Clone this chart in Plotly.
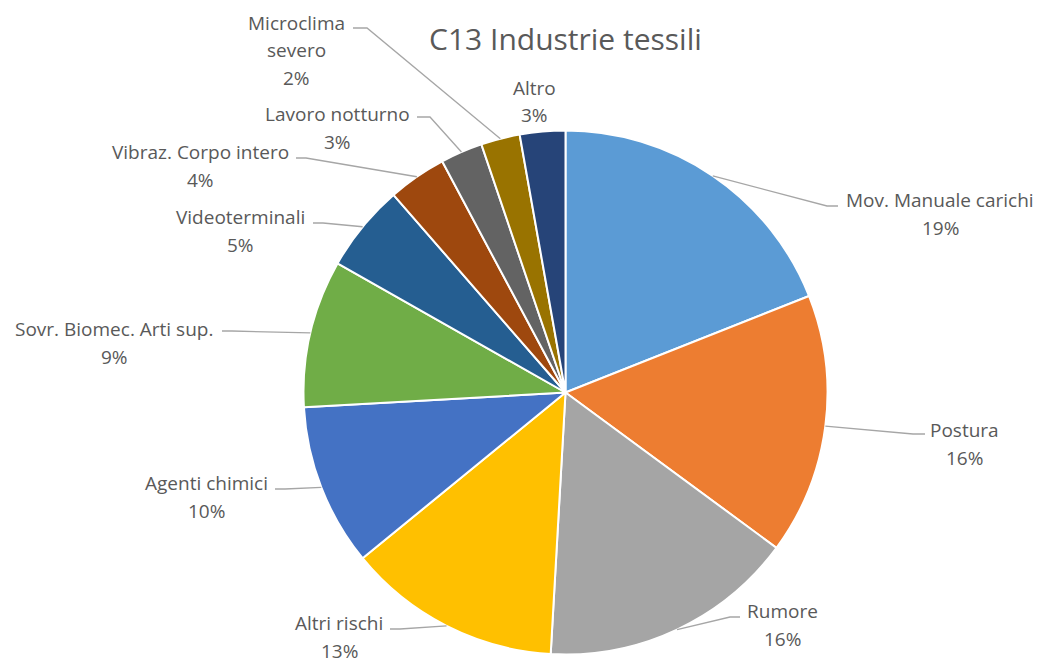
import math
import plotly.graph_objects as go

# ---------------- data ----------------
categories = [
    "Mov. Manuale carichi", "Postura", "Rumore", "Altri rischi", "Agenti chimici",
    "Sovr. Biomec. Arti sup.", "Videoterminali", "Vibraz. Corpo intero",
    "Lavoro notturno", "Microclima severo", "Altro",
]
values = [19.0, 16.1, 15.8, 13.2, 10.0, 9.1, 5.4, 3.6, 2.6, 2.4, 2.8]
# label text as wrapped in the chart
label_lines = [
    ["Mov. Manuale carichi"], ["Postura"], ["Rumore"], ["Altri rischi"], ["Agenti chimici"],
    ["Sovr. Biomec. Arti sup."], ["Videoterminali"], ["Vibraz. Corpo intero"],
    ["Lavoro notturno"], ["Microclima", "severo"], ["Altro"],
]
title_text = "C13 Industrie tessili"

# ---------------- style / layout ----------------
colors = ["#5B9BD5", "#ED7D31", "#A5A5A5", "#FFC000", "#4472C4", "#70AD47",
          "#255E91", "#9E480E", "#636363", "#997300", "#264478"]
W, H = 1043, 661
CX, CY, R = 565.5, 392.5, 262
FONT = "Open Sans"
TXT = "#595959"
LINE_SP = 27.5
# label anchor (center x, first line center y) in pixels
label_pos = [(940, 200), (964, 430), (782, 611), (339, 623), (206, 483),
             (114, 329), (240, 217), (200, 152), (337, 114), (296, 23), (534, 88)]
# leader stub: (end near label, elbow)  None = no leader
leader_stub = [((838, 206), (827, 206)), ((925, 434), (913, 434)), ((740, 617), (730, 617)),
               ((390, 629), (400, 629)), ((275, 489), (285, 489)), ((222, 331), (232, 331)),
               ((313, 223), (323, 223)), ((296, 158), (306, 158)), ((417, 117), (430, 117)),
               ((353, 28), (367, 28)), None]


def px(x, y):
    return x / W, 1 - y / H


fig = go.Figure(go.Pie(
    labels=categories, values=values, sort=False, direction="clockwise", rotation=0,
    marker=dict(colors=colors, line=dict(color="white", width=2)),
    textinfo="none", hoverinfo="label+percent", showlegend=False,
    domain=dict(x=[(CX - R) / W, (CX + R) / W], y=[(H - CY - R) / H, (H - CY + R) / H]),
))

total = sum(values)
cum = 0.0
shapes, annotations = [], []
for i, v in enumerate(values):
    mid = math.radians((cum + v / 2) / total * 360)
    cum += v
    ex, ey = CX + R * math.sin(mid), CY - R * math.cos(mid)
    if leader_stub[i] is not None:
        (sx, sy), (bx, by) = leader_stub[i]
        p0, p1, p2 = px(ex, ey), px(bx, by), px(sx, sy)
        shapes.append(dict(
            type="path", xref="paper", yref="paper",
            path=f"M {p0[0]},{p0[1]} L {p1[0]},{p1[1]} L {p2[0]},{p2[1]}",
            line=dict(color="#A6A6A6", width=1.3),
        ))
    lines = label_lines[i] + [f"{round(v / total * 100)}%"]
    lx, ly = label_pos[i]
    for k, t in enumerate(lines):
        ax_, ay_ = px(lx, ly + k * LINE_SP)
        annotations.append(dict(
            x=ax_, y=ay_, xref="paper", yref="paper", text=t, showarrow=False,
            xanchor="center", yanchor="middle",
            font=dict(family=FONT, size=19, color=TXT),
        ))

tx, ty = px(565, 38)
annotations.append(dict(
    x=tx, y=ty, xref="paper", yref="paper", text=title_text, showarrow=False,
    xanchor="center", yanchor="middle", font=dict(family=FONT, size=30, color=TXT),
))

fig.update_layout(
    width=W, height=H, autosize=False,
    margin=dict(l=0, r=0, t=0, b=0),
    paper_bgcolor="white", plot_bgcolor="white",
    shapes=shapes, annotations=annotations, showlegend=False,
)

fig.write_html(
    "out.html",
    config={"displayModeBar": False},
    post_script="document.body.style.margin='0';document.body.style.overflow='hidden';",
)
